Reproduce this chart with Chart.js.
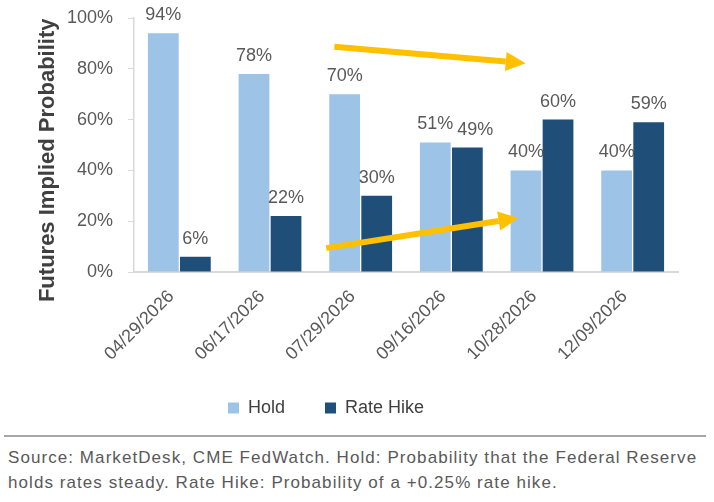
<!DOCTYPE html>
<html>
<head>
<meta charset="utf-8">
<script src="https://cdn.jsdelivr.net/npm/chart.js@4.4.1/dist/chart.umd.min.js"></script>
<style>
  body { margin: 0; background: #fff; width: 714px; height: 502px; overflow: hidden; position: relative; }
  #wrap { position: absolute; left: 0; top: 0; width: 714px; height: 430px; }
  #rule { position: absolute; left: 4px; top: 435px; width: 702px; height: 2px; background: #a6a6a6; }
  #source { position: absolute; left: 8px; top: 445px; width: 706px; white-space: nowrap; font-family: "Liberation Sans", Arial, sans-serif; font-size: 17px; letter-spacing: 1.07px; line-height: 25px; color: #595959; }
</style>
</head>
<body>
<div id="wrap"><canvas id="chart"></canvas></div>
<div id="rule"></div>
<div id="source">Source: MarketDesk, CME FedWatch. Hold: Probability that the Federal Reserve<br>holds rates steady. Rate Hike: Probability of a +0.25% rate hike.</div>
<script>
// Chart data
const meetings = ['04/29/2026', '06/17/2026', '07/29/2026', '09/16/2026', '10/28/2026', '12/09/2026'];
const holdProb = [94, 78, 70, 51, 40, 40];
const hikeProb = [6, 22, 30, 49, 60, 59];
const yTicks = [0, 20, 40, 60, 80, 100];

// Arrow annotations: [startIndex, startValue, endIndex, endValue]
const arrows = [
    [1.71, 88.7, 3.82, 82.2],
    [1.62, 9.4, 3.74, 21.3]
];

const textGray = '#595959';
const baseFont = 'Liberation Sans, Arial, sans-serif';

// Draws the percentage labels above each bar
const barLabels = {
    id: 'barLabels',
    afterDatasetsDraw(chart) {
        const ctx = chart.ctx;
        const holdBars = chart.getDatasetMeta(0).data;
        ctx.save();
        ctx.font = '18px ' + baseFont;
        ctx.fillStyle = textGray;
        ctx.textAlign = 'center';
        ctx.textBaseline = 'alphabetic';
        chart.data.datasets.forEach((ds, di) => {
            chart.getDatasetMeta(di).data.forEach((bar, i) => {
                // push the second label right when it would bump into its neighbour
                let dx = 0;
                if (di === 1 && Math.abs(bar.y - holdBars[i].y) < 20) dx = 8;
                ctx.fillText(ds.data[i] + '%', bar.x + dx, bar.y - 13);
            });
        });
        ctx.restore();
    }
};

// Draws the yellow trend arrows
const trendArrows = {
    id: 'trendArrows',
    afterDatasetsDraw(chart) {
        const ctx = chart.ctx;
        const xs = chart.scales.x;
        const ys = chart.scales.y;
        ctx.save();
        ctx.fillStyle = '#FFC000';
        ctx.strokeStyle = '#FFC000';
        ctx.lineWidth = 6;
        arrows.forEach(a => {
            const x1 = xs.getPixelForValue(a[0]);
            const y1 = ys.getPixelForValue(a[1]);
            const x2 = xs.getPixelForValue(a[2]);
            const y2 = ys.getPixelForValue(a[3]);
            const ang = Math.atan2(y2 - y1, x2 - x1);
            const headLen = 20, headHalf = 9.5;
            const bx = x2 - headLen * Math.cos(ang);
            const by = y2 - headLen * Math.sin(ang);
            ctx.beginPath();
            ctx.moveTo(x1, y1);
            ctx.lineTo(bx, by);
            ctx.stroke();
            ctx.beginPath();
            ctx.moveTo(x2, y2);
            ctx.lineTo(bx + headHalf * Math.sin(ang), by - headHalf * Math.cos(ang));
            ctx.lineTo(bx - headHalf * Math.sin(ang), by + headHalf * Math.cos(ang));
            ctx.closePath();
            ctx.fill();
        });
        ctx.restore();
    }
};

// Nudge the legend a little left, like the original
const legendShift = {
    id: 'legendShift',
    afterLayout(chart) {
        if (chart.legend) {
            chart.legend.left -= 13;
            chart.legend.right -= 13;
            chart.legend.adjustHitBoxes();
        }
    }
};

new Chart(document.getElementById('chart'), {
    type: 'bar',
    data: {
        labels: meetings,
        datasets: [
            {
                label: 'Hold',
                data: holdProb,
                backgroundColor: '#9DC3E6'
            },
            {
                label: 'Rate Hike',
                data: hikeProb,
                backgroundColor: '#1F4E79'
            }
        ]
    },
    options: {
        responsive: true,
        maintainAspectRatio: false,
        animation: false,
        categoryPercentage: 0.707,
        barPercentage: 0.96,
        layout: {
            padding: { top: 18, right: 36, left: 0, bottom: 3 }
        },
        plugins: {
            legend: {
                position: 'bottom',
                labels: {
                    boxWidth: 11,
                    boxHeight: 11,
                    padding: 40,
                    color: '#404040',
                    font: { size: 18, family: baseFont }
                }
            },
            tooltip: { enabled: false }
        },
        scales: {
            x: {
                grid: { display: false },
                border: { display: true, color: '#d9d9d9', width: 2 },
                ticks: {
                    minRotation: 45,
                    maxRotation: 45,
                    labelOffset: -8,
                    padding: 6,
                    color: textGray,
                    font: { size: 18, family: baseFont }
                },
                afterFit(scale) {
                    scale.height = 87;
                }
            },
            y: {
                min: 0,
                max: 100,
                afterBuildTicks(scale) {
                    scale.ticks = yTicks.map(v => ({ value: v }));
                },
                grid: {
                    drawOnChartArea: false,
                    drawTicks: true,
                    tickLength: 6,
                    color: '#d9d9d9'
                },
                border: { display: true, color: '#d9d9d9', width: 1.5 },
                ticks: {
                    padding: 15,
                    color: textGray,
                    font: { size: 18, family: baseFont },
                    callback: v => v + '%'
                },
                title: {
                    display: true,
                    // trailing spaces push the centred title a bit lower, as in the original
                    text: 'Futures Implied Probability     ',
                    color: '#404040',
                    padding: { top: 35, bottom: 0 },
                    font: { size: 22, weight: 'bold', family: baseFont }
                },
                afterFit(scale) {
                    scale.width = 134;
                    scale.paddingTop = 0;
                    scale.paddingBottom = 0;
                }
            }
        }
    },
    plugins: [barLabels, trendArrows, legendShift]
});
</script>
</body>
</html>
